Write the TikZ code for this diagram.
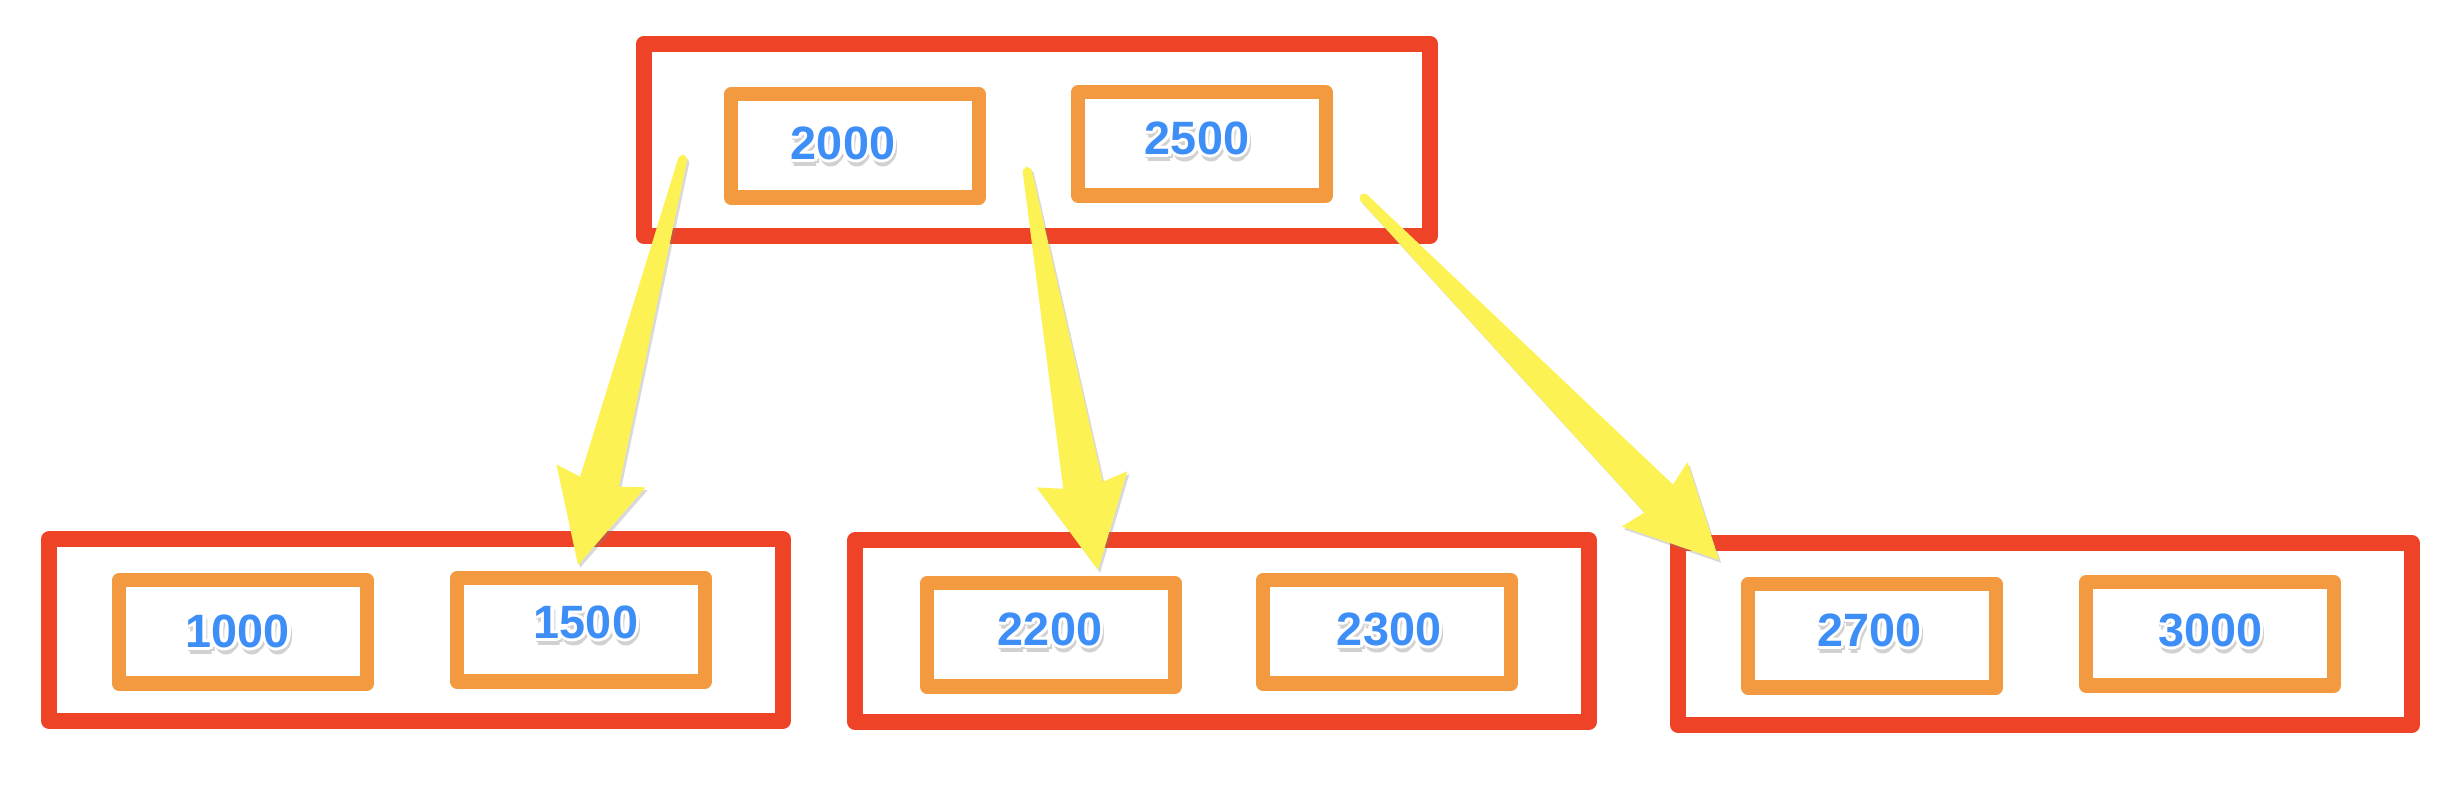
\documentclass[tikz,border=0pt]{standalone}
\usepackage{fontspec}
\setmainfont{Liberation Sans}
\usetikzlibrary{calc,shadows}

\definecolor{nodered}{HTML}{EE4326}
\definecolor{keyorange}{HTML}{F39A40}
\definecolor{keyblue}{HTML}{3D8EF7}
\definecolor{ptryellow}{HTML}{FDF254}

% one shifted copy of a key number (for outline and shadow)
\newcommand\keycopy[4]{\rlap{\smash{\kern#1\raisebox{#2}{\color{#3}#4}}}}
\newcommand\keylabel[1]{%
  \keycopy{1.3pt}{-1.3pt}{black!18}{#1}%
  \keycopy{-0.2pt}{-1.3pt}{black!18}{#1}%
  \keycopy{0.5pt}{-0.5pt}{black!18}{#1}%
  \keycopy{0.5pt}{-2.1pt}{black!18}{#1}%
  \keycopy{0.9pt}{0pt}{white}{#1}%
  \keycopy{-0.9pt}{0pt}{white}{#1}%
  \keycopy{0pt}{0.9pt}{white}{#1}%
  \keycopy{0pt}{-0.9pt}{white}{#1}%
  \keycopy{0.64pt}{0.64pt}{white}{#1}%
  \keycopy{-0.64pt}{0.64pt}{white}{#1}%
  \keycopy{0.64pt}{-0.64pt}{white}{#1}%
  \keycopy{-0.64pt}{-0.64pt}{white}{#1}%
  #1}

% tapered yellow pointer from #1 to the tip #2
\newcommand\pointer[2]{%
  \path ($(#2)!0.86cm!(#1)$) coordinate (j) ($(#2)!0.92cm!(#1)$) coordinate (b);
  \fill[pointer] ($(#1)!0.045cm!90:(#2)$) -- ($(j)!0.2cm!90:(#2)$)
    -- ($(b)!0.46cm!90:(#2)$) -- (#2) -- ($(b)!0.46cm!-90:(#2)$)
    -- ($(j)!0.2cm!-90:(#2)$) -- ($(#1)!0.045cm!-90:(#2)$)
    -- ($(#1)!-0.035cm!(#2)$) -- cycle;}

\begin{document}
\begin{tikzpicture}[x=0.01cm, y=-0.01cm,
  outer/.style={draw=nodered, line width=4.5pt, line join=round, inner sep=0pt,
    minimum width=7.33cm, minimum height=1.82cm},
  key/.style={draw=keyorange, line width=4pt, line join=round, inner sep=0pt,
    minimum width=2.48cm, minimum height=1.03cm},
  num/.style={font=\fontsize{13.3}{16}\selectfont\bfseries, text=keyblue,
    inner sep=0pt, text depth=0pt},
  pointer/.style={fill=ptryellow,
    drop shadow={shadow xshift=0.6pt, shadow yshift=-0.8pt, opacity=0.3}}]
  \useasboundingbox (0,0) rectangle (2440,798);

  % pages
  \node[outer, minimum width=7.86cm, minimum height=1.92cm] (root) at (1037,140) {};
  \node[outer] (leafa) at (416,630) {};
  \node[outer] (leafb) at (1222,631) {};
  \node[outer] (leafc) at (2045,634) {};

  % keys
  \node[key] (k2000) at (855,146) {};
  \node[key] (k2500) at (1202,144) {};
  \node[key] (k1000) at (243,632) {};
  \node[key] (k1500) at (581,630) {};
  \node[key] (k2200) at (1051,635) {};
  \node[key] (k2300) at (1387,632) {};
  \node[key] (k2700) at (1872,636) {};
  \node[key] (k3000) at (2210,634) {};

  \node[num] (n2000) at (843,143) {\keylabel{2000}};
  \node[num] (n2500) at (1197,138) {\keylabel{2500}};
  \node[num] (n1000) at (238,631) {\keylabel{1000}};
  \node[num] (n1500) at (586,622) {\keylabel{1500}};
  \node[num] (n2200) at (1050,629) {\keylabel{2200}};
  \node[num] (n2300) at (1389,629) {\keylabel{2300}};
  \node[num] (n2700) at (1869,630) {\keylabel{2700}};
  \node[num] (n3000) at (2210,630) {\keylabel{3000}};

  % child pointers
  \coordinate (from1) at (683,158);
  \coordinate (to1) at (578,565);
  \coordinate (from2) at (1027,170);
  \coordinate (to2) at (1098,570);
  \coordinate (from3) at (1363,197);
  \coordinate (to3) at (1719,560);
  \pointer{from1}{to1}
  \pointer{from2}{to2}
  \pointer{from3}{to3}
\end{tikzpicture}
\end{document}
